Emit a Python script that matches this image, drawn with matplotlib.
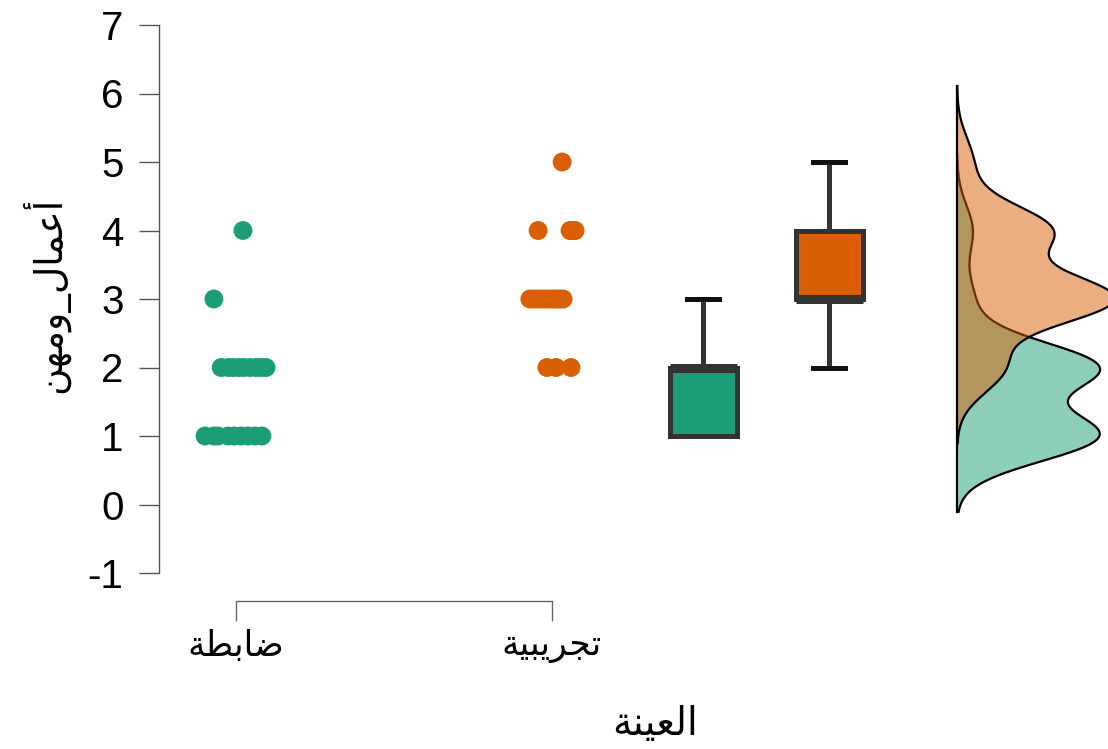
import numpy as np
import matplotlib
matplotlib.use("Agg")
import matplotlib.pyplot as plt

# ---------------- data ----------------
# Arabic text in visual (left-to-right) order using presentation forms
group_labels = ["\uFE94\uFEC4\uFE91\uFE8E\uFEBF",                 # ضابطة
                "\uFE94\uFEF4\uFE92\uFEF3\uFEAE\uFEA0\uFE97"]     # تجريبية
x_title = "\uFE94\uFEE8\uFEF4\uFECC\uFEDF\uFE8D"                  # العينة
y_title = "\uFEE6\uFEEC\uFEE3\uFEED_\uFEDD\uFE8E\uFEE4\uFECB\uFE83"  # أعمال_ومهن

control_values = [1, 1, 1, 1, 1, 1, 1, 1, 1,
                  2, 2, 2, 2, 2, 2, 2, 2, 2,
                  3, 4]
control_jitter = [-0.098, -0.070, -0.057, -0.025, -0.006, 0.016, 0.038, 0.060, 0.082,
                  -0.047, -0.025, -0.009, 0.009, 0.025, 0.044, 0.063, 0.079, 0.095,
                  -0.070, 0.022]
exp_values = [2, 2, 2,
              3, 3, 3, 3, 3, 3, 3, 3, 3, 3,
              4, 4, 4, 4, 4, 4,
              5]
exp_jitter = [-0.016, 0.013, 0.060,
              -0.070, -0.057, -0.044, -0.032, -0.019, -0.006, 0.006, 0.016, 0.025, 0.035,
              -0.044, 0.057, 0.060, 0.066, 0.070, 0.073,
              0.032]
y_ticks = [-1, 0, 1, 2, 3, 4, 5, 6, 7]

colors = ["#1b9e77", "#d95f02"]

# ---------------- layout ----------------
W, H = 1108, 749
LEFT = 159
fig = plt.figure(figsize=(W / 100, H / 100), dpi=100)
ax = fig.add_axes([LEFT / W, (H - 627.8) / H, 1 - LEFT / W, 616.5 / H])
x_left = 1 - (236 - LEFT) / 316
x_right = 1 + (W - 236) / 316
ax.set_xlim(x_left, x_right)
ax.set_ylim(-1.8, 7.2)

group_pos = [1, 2]
box_pos = [2.478, 2.877]
dens_base = 3.282
dens_peak_width = 0.4525

tick_font = ["Liberation Sans", "DejaVu Sans"]
arab_font = ["DejaVu Sans"]

# dots
for vals, jit, gp, c in [(control_values, control_jitter, group_pos[0], colors[0]),
                          (exp_values, exp_jitter, group_pos[1], colors[1])]:
    ax.scatter(np.array(jit) + gp, vals, s=185, color=c, edgecolors="none", zorder=3)

# boxplots
bp = ax.boxplot([control_values, exp_values], positions=box_pos, widths=0.212,
                whis=1.5, showfliers=False, patch_artist=True,
                capwidths=0.10, manage_ticks=False,
                boxprops=dict(edgecolor="#333333", linewidth=3.6, zorder=3),
                medianprops=dict(color="#333333", linewidth=6.5, solid_capstyle="butt",
                                 zorder=4),
                whiskerprops=dict(color="#333333", linewidth=3.6, zorder=2),
                capprops=dict(color="#111111", linewidth=3.6, zorder=2))
for patch, c in zip(bp["boxes"], colors):
    patch.set_facecolor(c)


# densities (Gaussian KDE, bw.nrd0, cut = 3)
def kde(vals):
    v = np.asarray(vals, float)
    n = len(v)
    q75, q25 = np.percentile(v, [75, 25])
    bw = 0.9 * min(v.std(ddof=1), (q75 - q25) / 1.34) * n ** -0.2
    grid = np.linspace(v.min() - 3 * bw, v.max() + 3 * bw, 600)
    d = np.exp(-0.5 * ((grid[:, None] - v[None, :]) / bw) ** 2).sum(axis=1)
    d /= n * bw * np.sqrt(2 * np.pi)
    return grid, d


dens = [kde(control_values), kde(exp_values)]
scale = dens_peak_width / dens[0][1].max()
lo = min(g.min() for g, _ in dens)
hi = max(g.max() for g, _ in dens)
for (g, d), c in zip(dens, colors):
    ax.fill_betweenx(g, dens_base, dens_base + d * scale, color=c, alpha=0.5,
                     linewidth=0, zorder=2)
    ax.plot(dens_base + d * scale, g, color="black", linewidth=1.6, zorder=2)
ax.plot([dens_base, dens_base], [lo, hi], color="black", linewidth=1.6, zorder=2)

# axes styling
for s in ["top", "right"]:
    ax.spines[s].set_visible(False)
ax.spines["left"].set_bounds(-1, 7)
ax.spines["left"].set_color("#555555")
ax.spines["left"].set_linewidth(1.0)
ax.spines["bottom"].set_position(("data", -1.416))
ax.spines["bottom"].set_bounds(1, 2)
ax.spines["bottom"].set_color("#666666")
ax.spines["bottom"].set_linewidth(1.0)

ax.set_yticks(y_ticks)
ax.set_yticklabels([str(t) for t in y_ticks], fontfamily=tick_font, fontsize=29)
ax.tick_params(axis="y", length=14.5, width=1.0, color="#555555", pad=11)

ax.set_xticks(group_pos)
ax.set_xticklabels(group_labels, fontfamily=arab_font, fontsize=25)
ax.tick_params(axis="x", length=14.5, width=1.0, color="#666666", pad=5)

ax.set_xlabel(x_title, fontfamily=arab_font, fontsize=28, va="center")
ax.xaxis.set_label_coords((655 - LEFT) / (W - LEFT), (627.8 - 724) / 616.5)
ax.set_ylabel(y_title, fontfamily=arab_font, fontsize=27, va="center")
ax.yaxis.set_label_coords((45 - LEFT) / (W - LEFT), (627.8 - 295) / 616.5)

fig.savefig("out.png", dpi=100)
